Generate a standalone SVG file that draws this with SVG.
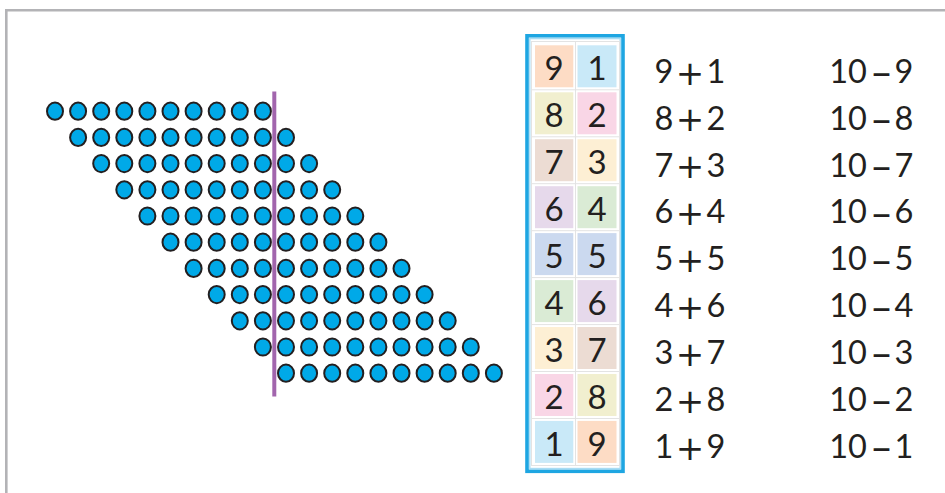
<svg xmlns="http://www.w3.org/2000/svg" width="945" height="493" viewBox="0 0 945 493">
<style>
.frame{fill:none;stroke:#b3b3b6;stroke-width:2.6}
.dot{fill:#00a9e8;stroke:#231f20;stroke-width:2}
.divide{stroke:#a265ad;stroke-width:4}
.d{font-family:Lato,"Open Sans","Liberation Sans",sans-serif;font-size:33px;fill:#231f20;text-anchor:middle}
.eq{font-family:Lato,"Open Sans","Liberation Sans",sans-serif;font-size:32.5px;fill:#231f20;text-anchor:middle}
.op{font-family:"DejaVu Sans",sans-serif;font-size:34px}
.mi{font-family:"DejaVu Sans",sans-serif;font-size:39px}
.c1{fill:#fddcc5}.c2{fill:#c9e9f8}.c3{fill:#f1efcf}.c4{fill:#f9d6e6}.c5{fill:#ecdcd3}
.c6{fill:#fdefd4}.c7{fill:#e6d9eb}.c8{fill:#daebd5}.c9{fill:#cbd9ef}
.grid{fill:none;stroke:#e3e3e3;stroke-width:1}
</style>
<defs>
<ellipse id="b" class="dot" rx="8" ry="8.6"/>
<g id="row">
<use href="#b" x="0"/><use href="#b" x="23.1"/><use href="#b" x="46.2"/><use href="#b" x="69.3"/><use href="#b" x="92.4"/>
<use href="#b" x="115.5"/><use href="#b" x="138.6"/><use href="#b" x="161.7"/><use href="#b" x="184.8"/><use href="#b" x="207.9"/>
</g>
</defs>
<path class="frame" d="M6.3,493 V10.3 H945"/>
<g id="dots">
<use href="#row" x="55" y="111.2"/>
<use href="#row" x="78.1" y="137.4"/>
<use href="#row" x="101.2" y="163.6"/>
<use href="#row" x="124.3" y="189.8"/>
<use href="#row" x="147.4" y="216"/>
<use href="#row" x="170.5" y="242.2"/>
<use href="#row" x="193.6" y="268.4"/>
<use href="#row" x="216.7" y="294.6"/>
<use href="#row" x="239.8" y="320.8"/>
<use href="#row" x="262.9" y="347"/>
<use href="#row" x="286" y="373.2"/>
</g>
<line id="divider" class="divide" x1="274.3" y1="91.5" x2="274.3" y2="396.5"/>
<g id="table">
<rect x="527" y="35.8" width="96" height="435.5" fill="#ffffff" stroke="#1ea6e2" stroke-width="3.6"/>
<rect x="529.8" y="38.6" width="90.4" height="429.9" fill="none" stroke="#a8dcf4" stroke-width="1.4"/>
<rect class="grid" x="531.5" y="41.5" width="88" height="424"/>
<line class="grid" x1="575.5" y1="41.5" x2="575.5" y2="465.5"/>
<path class="grid" d="M531.5,89.8H619.5M531.5,136.8H619.5M531.5,183.7H619.5M531.5,230.7H619.5M531.5,277.6H619.5M531.5,324.6H619.5M531.5,371.5H619.5M531.5,418.5H619.5"/>
<g id="r1"><rect class="c1" x="535" y="45.3" width="38.3" height="42"/><rect class="c2" x="577.5" y="45.3" width="39" height="42"/><text class="d" x="554" y="80.3">9</text><text class="d" x="597" y="80.3">1</text></g>
<g id="r2"><rect class="c3" x="535" y="92.3" width="38.3" height="42"/><rect class="c4" x="577.5" y="92.3" width="39" height="42"/><text class="d" x="554" y="127.3">8</text><text class="d" x="597" y="127.3">2</text></g>
<g id="r3"><rect class="c5" x="535" y="139.2" width="38.3" height="42"/><rect class="c6" x="577.5" y="139.2" width="39" height="42"/><text class="d" x="554" y="174.2">7</text><text class="d" x="597" y="174.2">3</text></g>
<g id="r4"><rect class="c7" x="535" y="186.2" width="38.3" height="42"/><rect class="c8" x="577.5" y="186.2" width="39" height="42"/><text class="d" x="554" y="221.2">6</text><text class="d" x="597" y="221.2">4</text></g>
<g id="r5"><rect class="c9" x="535" y="233.1" width="38.3" height="42"/><rect class="c9" x="577.5" y="233.1" width="39" height="42"/><text class="d" x="554" y="268.1">5</text><text class="d" x="597" y="268.1">5</text></g>
<g id="r6"><rect class="c8" x="535" y="280.1" width="38.3" height="42"/><rect class="c7" x="577.5" y="280.1" width="39" height="42"/><text class="d" x="554" y="315.1">4</text><text class="d" x="597" y="315.1">6</text></g>
<g id="r7"><rect class="c6" x="535" y="327" width="38.3" height="42"/><rect class="c5" x="577.5" y="327" width="39" height="42"/><text class="d" x="554" y="362">3</text><text class="d" x="597" y="362">7</text></g>
<g id="r8"><rect class="c4" x="535" y="374" width="38.3" height="42"/><rect class="c3" x="577.5" y="374" width="39" height="42"/><text class="d" x="554" y="409">2</text><text class="d" x="597" y="409">8</text></g>
<g id="r9"><rect class="c2" x="535" y="420.9" width="38.3" height="42"/><rect class="c1" x="577.5" y="420.9" width="39" height="42"/><text class="d" x="554" y="455.9">1</text><text class="d" x="597" y="455.9">9</text></g>
</g>
<g id="sums" class="eq">
<text><tspan x="664" y="82.7">9</tspan><tspan class="op" x="690" y="84.5">+</tspan><tspan x="716" y="82.7">1</tspan></text>
<text><tspan x="664" y="129.6">8</tspan><tspan class="op" x="690" y="131.4">+</tspan><tspan x="716" y="129.6">2</tspan></text>
<text><tspan x="664" y="176.5">7</tspan><tspan class="op" x="690" y="178.3">+</tspan><tspan x="716" y="176.5">3</tspan></text>
<text><tspan x="664" y="223.4">6</tspan><tspan class="op" x="690" y="225.2">+</tspan><tspan x="716" y="223.4">4</tspan></text>
<text><tspan x="664" y="270.3">5</tspan><tspan class="op" x="690" y="272.1">+</tspan><tspan x="716" y="270.3">5</tspan></text>
<text><tspan x="664" y="317.2">4</tspan><tspan class="op" x="690" y="319">+</tspan><tspan x="716" y="317.2">6</tspan></text>
<text><tspan x="664" y="364.1">3</tspan><tspan class="op" x="690" y="365.9">+</tspan><tspan x="716" y="364.1">7</tspan></text>
<text><tspan x="664" y="411">2</tspan><tspan class="op" x="690" y="412.8">+</tspan><tspan x="716" y="411">8</tspan></text>
<text><tspan x="664" y="457.9">1</tspan><tspan class="op" x="690" y="459.7">+</tspan><tspan x="716" y="457.9">9</tspan></text>
</g>
<g id="differences" class="eq">
<text><tspan x="848" y="82.7">10</tspan><tspan class="mi" x="881.5" y="85">–</tspan><tspan x="904" y="82.7">9</tspan></text>
<text><tspan x="848" y="129.6">10</tspan><tspan class="mi" x="881.5" y="131.9">–</tspan><tspan x="904" y="129.6">8</tspan></text>
<text><tspan x="848" y="176.5">10</tspan><tspan class="mi" x="881.5" y="178.8">–</tspan><tspan x="904" y="176.5">7</tspan></text>
<text><tspan x="848" y="223.4">10</tspan><tspan class="mi" x="881.5" y="225.7">–</tspan><tspan x="904" y="223.4">6</tspan></text>
<text><tspan x="848" y="270.3">10</tspan><tspan class="mi" x="881.5" y="272.6">–</tspan><tspan x="904" y="270.3">5</tspan></text>
<text><tspan x="848" y="317.2">10</tspan><tspan class="mi" x="881.5" y="319.5">–</tspan><tspan x="904" y="317.2">4</tspan></text>
<text><tspan x="848" y="364.1">10</tspan><tspan class="mi" x="881.5" y="366.4">–</tspan><tspan x="904" y="364.1">3</tspan></text>
<text><tspan x="848" y="411">10</tspan><tspan class="mi" x="881.5" y="413.3">–</tspan><tspan x="904" y="411">2</tspan></text>
<text><tspan x="848" y="457.9">10</tspan><tspan class="mi" x="881.5" y="460.2">–</tspan><tspan x="904" y="457.9">1</tspan></text>
</g>
</svg>
